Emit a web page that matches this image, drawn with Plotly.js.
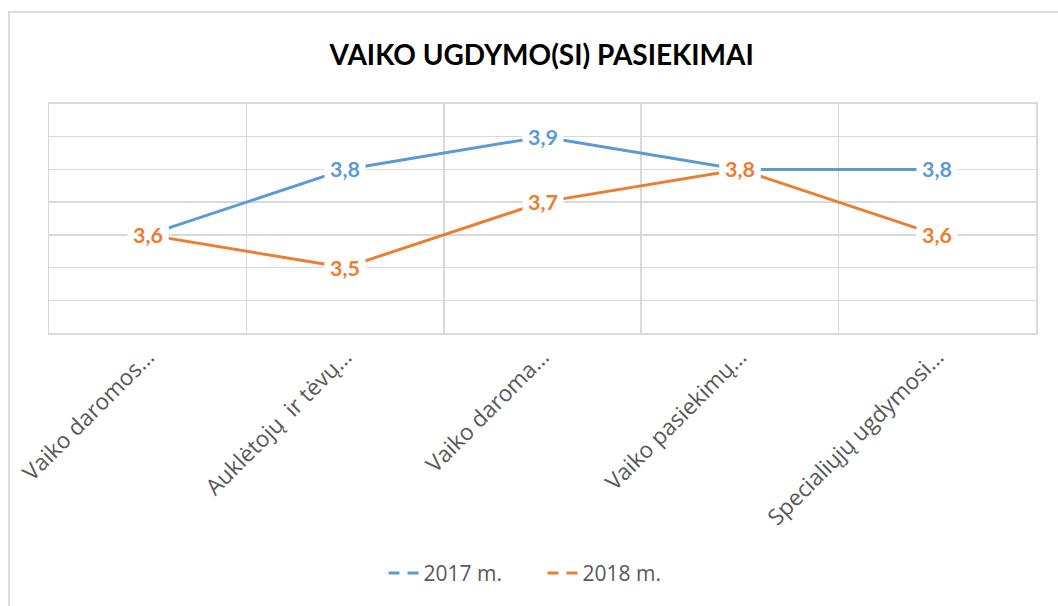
<!DOCTYPE html>
<html>
<head>
<meta charset="utf-8">
<script src="https://cdn.plot.ly/plotly-3.0.1.min.js"></script>
<style>
  html, body { margin: 0; padding: 0; background: #fff; overflow: hidden; }
  #chart { position: absolute; left: 0; top: 0; width: 1058px; height: 606px; }
  #frame { position: absolute; left: 8px; top: 11px; width: 1100px; height: 650px;
           border: 2px solid #D9D9D9; pointer-events: none; box-sizing: border-box; }
</style>
</head>
<body>
<div id="chart"></div>
<div id="frame"></div>
<script>
const categories = [
  "Vaiko daromos…",
  "Auklėtojų  ir tėvų…",
  "Vaiko daroma…",
  "Vaiko pasiekimų…",
  "Specialiųjų ugdymosi…"
];
const seriesNames = ["2017 m.", "2018 m."];
const values2017 = [3.6, 3.8, 3.9, 3.8, 3.8];
const values2018 = [3.6, 3.5, 3.7, 3.8, 3.6];
const colors = ["#5B9BD5", "#ED7D31"];

const allSeries = [values2017, values2018];

const traces = [];
allSeries.forEach((vals, i) => {
  traces.push({
    type: "scatter", mode: "lines", x: categories, y: vals,
    line: { color: colors[i], width: 3 }, showlegend: false, hoverinfo: "skip"
  });
});
allSeries.forEach((vals, i) => {
  traces.push({
    type: "scatter", mode: "lines", x: [null], y: [null], name: seriesNames[i],
    line: { color: colors[i], width: 3, dash: "11px,8px" }, showlegend: true
  });
});

const annotations = [];
allSeries.forEach((vals, i) => {
  vals.forEach((v, j) => {
    annotations.push({
      x: categories[j], y: v, xref: "x", yref: "y",
      text: v.toFixed(1).replace(".", ","), showarrow: false,
      xanchor: "center", yanchor: "middle",
      bgcolor: "#FFFFFF", borderpad: 5,
      font: { family: "Lato, sans-serif", size: 21.5, color: colors[i], weight: "bold" }
    });
  });
});

const layout = {
  width: 1058, height: 606,
  margin: { l: 49, r: 22, t: 104, b: 273 },
  paper_bgcolor: "#FFFFFF", plot_bgcolor: "#FFFFFF",
  title: {
    text: "<b>VAIKO UGDYMO(SI) PASIEKIMAI</b>",
    font: { family: "Lato, sans-serif", size: 28, color: "#000000" },
    x: 0.512, xanchor: "center", y: 0.909, yanchor: "middle"
  },
  xaxis: {
    type: "category", range: [-0.5, 4.5], tickson: "boundaries",
    showgrid: true, gridcolor: "#D9D9D9", gridwidth: 1.5,
    showline: true, linecolor: "#D9D9D9", linewidth: 2, mirror: true,
    ticks: "", tickangle: -45,
    tickfont: { family: "Open Sans, sans-serif", size: 22.5, color: "#595959" },
    fixedrange: true
  },
  yaxis: {
    range: [3.3, 4.0], dtick: 0.1, tick0: 3.3,
    showgrid: true, gridcolor: "#D9D9D9", gridwidth: 1.5,
    showline: true, linecolor: "#D9D9D9", linewidth: 1.5, mirror: true,
    showticklabels: false, ticks: "", zeroline: false, fixedrange: true
  },
  showlegend: true,
  legend: {
    orientation: "h", x: 0.5, xanchor: "center", y: -1.05, yanchor: "middle",
    font: { family: "Open Sans, sans-serif", size: 21, color: "#595959" },
    entrywidth: 114, entrywidthmode: "pixels", bgcolor: "rgba(0,0,0,0)"
  },
  annotations: annotations
};

Plotly.newPlot("chart", traces, layout, { displayModeBar: false, staticPlot: true });
</script>
</body>
</html>
